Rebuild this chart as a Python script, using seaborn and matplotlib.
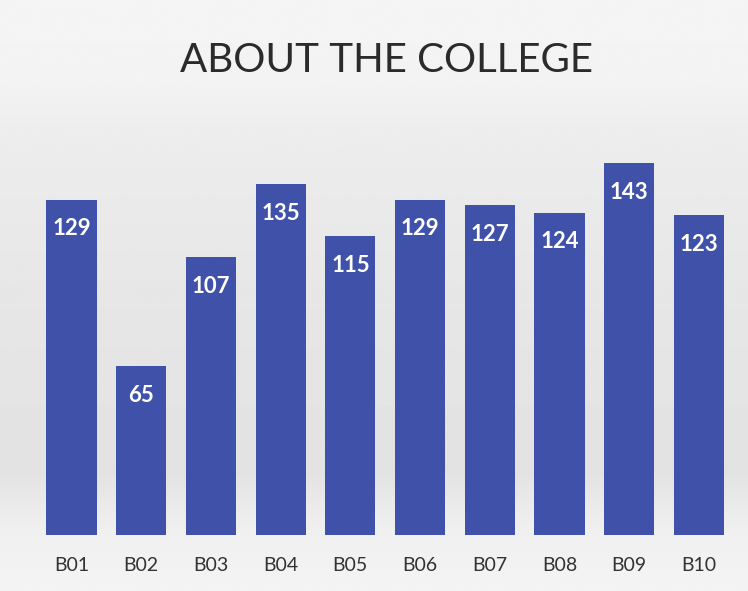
import numpy as np
import pandas as pd
import matplotlib.pyplot as plt
import seaborn as sns

batches = ["B01", "B02", "B03", "B04", "B05", "B06", "B07", "B08", "B09", "B10"]
counts = [129, 65, 107, 135, 115, 129, 127, 124, 143, 123]

df = pd.DataFrame({"batch": batches, "count": counts})

sns.set_style("white")
plt.rcParams["font.family"] = ["Lato", "DejaVu Sans"]

fig = plt.figure(figsize=(7.48, 5.91), dpi=100)
fig.patch.set_facecolor("#f3f2f4")

# soft grey backdrop like the scanned slide
bg = fig.add_axes([0, 0, 1, 1], zorder=0)
rows = np.linspace(0, 1, 300)
shade = np.interp(rows, [0, 0.12, 0.25, 0.55, 0.8, 0.9, 1.0],
                  [0.96, 0.955, 0.925, 0.90, 0.89, 0.94, 0.955])
img = np.repeat(shade[:, None], 10, axis=1)
bg.imshow(img, cmap="gray", vmin=0, vmax=1, aspect="auto",
          extent=[0, 1, 0, 1], origin="upper")
bg.set_xlim(0, 1)
bg.set_ylim(0, 1)
bg.axis("off")

ax = fig.add_axes([0.049, 0.0948, 0.932, 0.704], zorder=1)
ax.patch.set_alpha(0)
sns.barplot(data=df, x="batch", y="count", color="#3f51a9", width=0.72,
            saturation=1, linewidth=0, ax=ax)
ax.set_xlim(-0.5, 9.5)
ax.set_ylim(0, 160)

for i, v in enumerate(counts):
    ax.text(i, v - 11.3, str(v), ha="center", va="center", color="white",
            fontsize=16, fontweight="bold")

ax.set_xlabel("")
ax.set_ylabel("")
ax.set_yticks([])
ax.tick_params(axis="x", length=0, labelsize=14, labelcolor="#333333", pad=16)
for s in ax.spines.values():
    s.set_visible(False)

fig.text(0.517, 0.898, "ABOUT THE COLLEGE", ha="center", va="center",
         fontsize=29, color="#2b2b2b")

fig.savefig("out.png", dpi=100, facecolor=fig.get_facecolor())
